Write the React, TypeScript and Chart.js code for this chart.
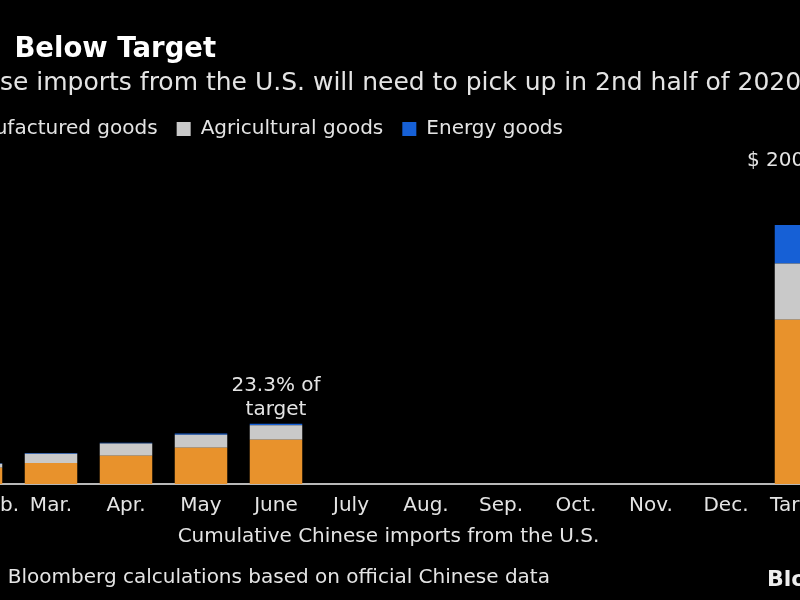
import { useEffect, useRef } from "react";
import { Chart, registerables } from "chart.js";

Chart.register(...registerables);

// ---- Data (billions of US$, cumulative) ----
const categories = ["Jan.-Feb.", "Mar.", "Apr.", "May", "June", "July", "Aug.", "Sep.", "Oct.", "Nov.", "Dec.", "Target"];
const manufactured = [10.8, 14.1, 18.9, 24.2, 29.6, null, null, null, null, null, null, 109.8];
const agricultural = [2.7, 6.1, 8.1, 8.8, 9.7, null, null, null, null, null, null, 37.7];
const energy = [0.3, 0.5, 0.6, 0.8, 1.0, null, null, null, null, null, null, 25.6];
const seriesNames = ["Manufactured goods", "Agricultural goods", "Energy goods"];

const titleText = "Lags\u2002Below Target";
const subtitleText = "Chinese imports from the U.S. will need to pick up in 2nd half of 2020";
const axisTitle = "Cumulative Chinese imports from the U.S.";
const sourceText = "Source: Bloomberg calculations based on official Chinese data";
const progressLabel = ["23.3% of", "target"];
const targetLabel = "$ 200 billion";
const brandText = "Bloomberg";
const yMax = 224;

const FONT = '"DejaVu Sans", Verdana, sans-serif';
const ORANGE = "#e8922c";
const GREY = "#c9c9c9";
const BLUE = "#1660d6";
const TEXT = "#e4e4e4";

const annotationPlugin = {
  id: "annotations",
  afterDraw(chart: any) {
    const { ctx, scales } = chart;
    const x = scales.x;
    const y = scales.y;
    ctx.save();
    ctx.fillStyle = TEXT;
    ctx.textBaseline = "middle";

    // Progress annotation above June bar
    const j = categories.indexOf("June");
    const jTop = y.getPixelForValue((manufactured[j] || 0) + (agricultural[j] || 0) + (energy[j] || 0));
    ctx.font = `20px ${FONT}`;
    ctx.textAlign = "center";
    ctx.fillText(progressLabel[0], x.getPixelForValue(j), jTop - 38);
    ctx.fillText(progressLabel[1], x.getPixelForValue(j), jTop - 14);

    // Target label
    const t = categories.indexOf("Target");
    const tTop = y.getPixelForValue((manufactured[t] || 0) + (agricultural[t] || 0) + (energy[t] || 0));
    ctx.textAlign = "left";
    ctx.fillText(targetLabel, x.getPixelForValue(t) - 54, tTop - 64);

    // Source
    ctx.font = `20px ${FONT}`;
    ctx.fillText(sourceText, 6, 578);

    // Brand
    ctx.font = `bold 22px ${FONT}`;
    ctx.fillStyle = "#eeeeee";
    ctx.fillText(brandText, 847, 580);
    ctx.restore();
  },
};

export default function App() {
  const canvasRef = useRef<HTMLCanvasElement | null>(null);

  useEffect(() => {
    if (!canvasRef.current) return;
    Chart.defaults.font.family = FONT;
    const chart = new Chart(canvasRef.current, {
      type: "bar",
      data: {
        labels: categories,
        datasets: [
          { label: seriesNames[0], data: manufactured, backgroundColor: ORANGE },
          { label: seriesNames[1], data: agricultural, backgroundColor: GREY },
          { label: seriesNames[2], data: energy, backgroundColor: BLUE },
        ].map((d) => ({ ...d, borderWidth: 0, barPercentage: 0.7, categoryPercentage: 1 })),
      },
      options: {
        animation: false,
        responsive: true,
        maintainAspectRatio: false,
        layout: { padding: { left: 8.5, right: 41.5, top: 0, bottom: 55 } },
        scales: {
          x: {
            stacked: true,
            grid: { display: false, drawTicks: false },
            border: { display: true, color: "#b8b8b8", width: 2 },
            ticks: {
              color: TEXT,
              font: { size: 20, lineHeight: 1 },
              padding: 12,
              maxRotation: 0,
              autoSkip: false,
            },
            title: {
              display: true,
              text: axisTitle,
              color: TEXT,
              font: { size: 20, lineHeight: 0.85 },
              padding: { top: 0, bottom: 0 },
            },
          },
          y: {
            stacked: true,
            min: 0,
            max: yMax,
            display: true,
            grid: { display: false, drawTicks: false },
            border: { display: false },
            ticks: { display: false },
            afterFit: (scale: any) => {
              scale.width = 10;
            },
          },
        },
        plugins: {
          title: {
            display: true,
            text: titleText,
            align: "start",
            color: "#ffffff",
            font: { size: 27.5, weight: "bold", lineHeight: 1.2 },
            padding: { top: 33.5, bottom: 0 },
          },
          subtitle: {
            display: true,
            text: subtitleText,
            align: "start",
            color: TEXT,
            font: { size: 25, lineHeight: 1.2 },
            padding: { top: 1.5, bottom: 21 },
          },
          legend: {
            display: true,
            position: "top",
            align: "start",
            labels: {
              color: TEXT,
              font: { size: 20 },
              boxWidth: 14,
              boxHeight: 14,
              padding: 0,
              generateLabels: (c: any) =>
                (Chart.defaults.plugins.legend.labels.generateLabels as any)(c).map((l: any) => ({
                  ...l,
                  text: l.text + "   ",
                  lineWidth: 0,
                })),
            },
          },
          tooltip: { enabled: false },
        },
      },
      plugins: [annotationPlugin],
    } as any);
    return () => chart.destroy();
  }, []);

  return (
    <div
      style={{
        position: "fixed",
        left: 0,
        top: 0,
        width: 800,
        height: 600,
        overflow: "hidden",
        background: "#000",
      }}
    >
      <div style={{ position: "absolute", left: -80, top: 0, width: 960, height: 600 }}>
        <canvas ref={canvasRef} />
      </div>
    </div>
  );
}
